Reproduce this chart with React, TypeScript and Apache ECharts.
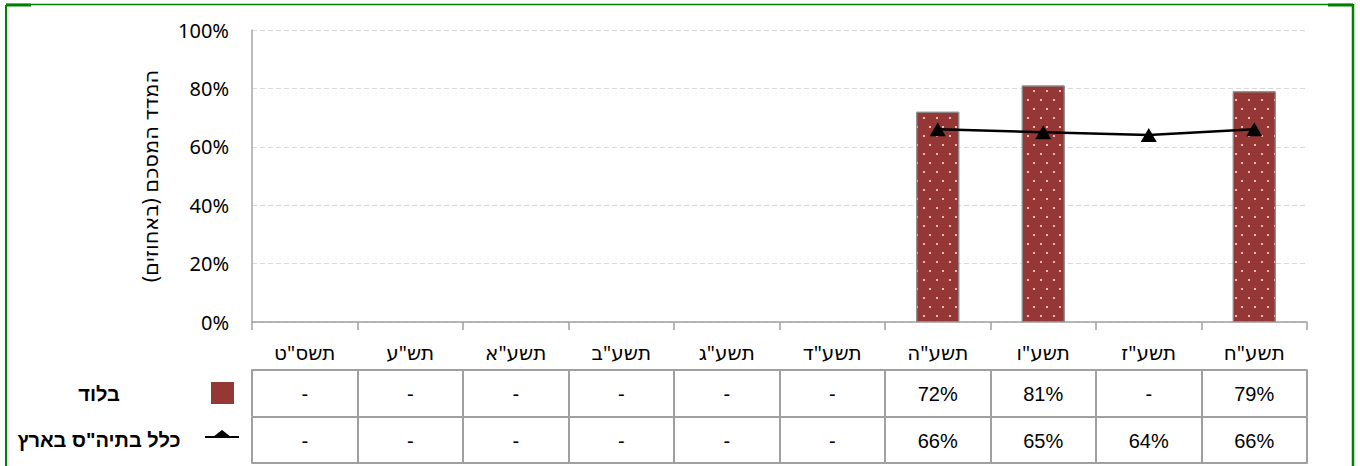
import React, { useEffect, useRef } from "react";
import * as echarts from "echarts";

const categories = ['תשס"ט', 'תש"ע', 'תשע"א', 'תשע"ב', 'תשע"ג', 'תשע"ד', 'תשע"ה', 'תשע"ו', 'תשע"ז', 'תשע"ח'];
const lodValues: (number | null)[] = [null, null, null, null, null, null, 72, 81, null, 79];
const nationalValues: (number | null)[] = [null, null, null, null, null, null, 66, 65, 64, 66];
const lodName = "בלוד";
const nationalName = 'כלל בתיה"ס בארץ';
const yAxisName = "\u200Fהמדד המסכם (באחוזים)\u200F";
const yMin = 0;
const yMax = 100;
const yInterval = 20;

const fmt = (v: number | null) => (v == null ? "-" : `${v}%`);
const GRID = "#a0a0a0";

export default function App() {
  const ref = useRef<HTMLDivElement>(null);
  useEffect(() => {
    if (!ref.current) return;
    const chart = echarts.init(ref.current, null, { renderer: "svg" });
    const tableAxis = (offset: number, values: (number | null)[] | null) => ({
      type: "category",
      data: categories,
      position: "bottom",
      offset,
      gridIndex: 0,
      axisLine: { show: true, lineStyle: { color: GRID, width: 2 } },
      axisTick: { show: values != null, interval: 0, length: 46, lineStyle: { color: GRID, width: 2 } },
      axisLabel: {
        show: values != null,
        interval: 0,
        margin: 14,
        fontFamily: "Liberation Sans, Arial, sans-serif",
        fontSize: 20,
        color: "#000",
        formatter: (_: string, i: number) => (values ? fmt(values[i]) : ""),
      },
      splitLine: { show: false },
    });
    chart.setOption({
      animation: false,
      grid: { left: 252, right: 53, top: 30, bottom: 144, containLabel: false },
      xAxis: [
        {
          type: "category",
          data: categories,
          axisLine: { show: true, lineStyle: { color: GRID, width: 1.5 } },
          axisTick: { show: true, interval: 0, length: 8, lineStyle: { color: GRID, width: 1.5 } },
          axisLabel: {
            interval: 0,
            margin: 20,
            fontFamily: "Noto Sans, DejaVu Sans, sans-serif",
            fontSize: 20,
            color: "#000",
          },
        },
        tableAxis(48, lodValues),
        tableAxis(95, nationalValues),
        tableAxis(141, null),
      ],
      yAxis: {
        type: "value",
        min: yMin,
        max: yMax,
        interval: yInterval,
        name: yAxisName,
        nameLocation: "middle",
        nameGap: 92,
        nameRotate: 90,
        nameTextStyle: { fontFamily: "Noto Sans, DejaVu Sans, sans-serif", fontSize: 21, color: "#000" },
        axisLine: { show: true, lineStyle: { color: "#a6a6a6", width: 1.5 } },
        axisTick: { show: false },
        axisLabel: {
          formatter: "{value}%",
          margin: 23,
          fontFamily: "Noto Sans, DejaVu Sans, sans-serif",
          fontSize: 20,
          color: "#000",
        },
        splitLine: { show: true, lineStyle: { color: "#d9d9d9", type: [5, 3], width: 1 } },
      },
      series: [
        {
          name: lodName,
          type: "bar",
          data: lodValues,
          barWidth: 43,
          itemStyle: {
            color: "#953735",
            borderColor: "#8c8c8c",
            borderWidth: 1,
            decal: {
              symbol: "rect",
              symbolSize: 1,
              color: "rgba(255,205,205,0.85)",
              dashArrayX: [[1.5, 11], [0, 6, 1.5, 5]],
              dashArrayY: [1.5, 6.8],
              rotation: 0,
            },
          },
        },
        {
          name: nationalName,
          type: "line",
          data: nationalValues,
          symbol: "triangle",
          symbolSize: [16, 14],
          itemStyle: { color: "#000" },
          lineStyle: { color: "#000", width: 2.5 },
          z: 5,
        },
      ],
      graphic: [
        { type: "line", shape: { x1: 6, y1: 470, x2: 6, y2: 5 }, style: { stroke: "#008000", lineWidth: 2 } },
        { type: "line", shape: { x1: 6, y1: 4.5, x2: 1353, y2: 4.5 }, style: { stroke: "#008000", lineWidth: 1.5 } },
        { type: "line", shape: { x1: 1353, y1: 4, x2: 1353, y2: 470 }, style: { stroke: "#008000", lineWidth: 2.5 } },
        { type: "line", shape: { x1: 6, y1: 5, x2: 31, y2: 5 }, style: { stroke: "#008000", lineWidth: 3 } },
        { type: "line", shape: { x1: 1328, y1: 5, x2: 1353, y2: 5 }, style: { stroke: "#008000", lineWidth: 3 } },
        { type: "rect", shape: { x: 211, y: 382, width: 23, height: 22 }, style: { fill: "#953735" } },
        {
          type: "text",
          x: 99,
          y: 394,
          style: {
            text: lodName,
            align: "center",
            verticalAlign: "middle",
            font: "bold 20px 'Liberation Sans', Arial, sans-serif",
            fill: "#000",
          },
        },
        { type: "line", shape: { x1: 205, y1: 437, x2: 239, y2: 437 }, style: { stroke: "#000", lineWidth: 2 } },
        { type: "polygon", shape: { points: [[213, 437], [231, 437], [222, 430]] }, style: { fill: "#000" } },
        {
          type: "text",
          x: 99,
          y: 440,
          style: {
            text: nationalName,
            align: "center",
            verticalAlign: "middle",
            font: "bold 20px 'Liberation Sans', Arial, sans-serif",
            fill: "#000",
          },
        },
      ],
    });
    return () => chart.dispose();
  }, []);
  return (
    <div
      ref={ref}
      style={{ position: "absolute", left: 0, top: 0, width: 1360, height: 466, background: "#fff" }}
    />
  );
}
